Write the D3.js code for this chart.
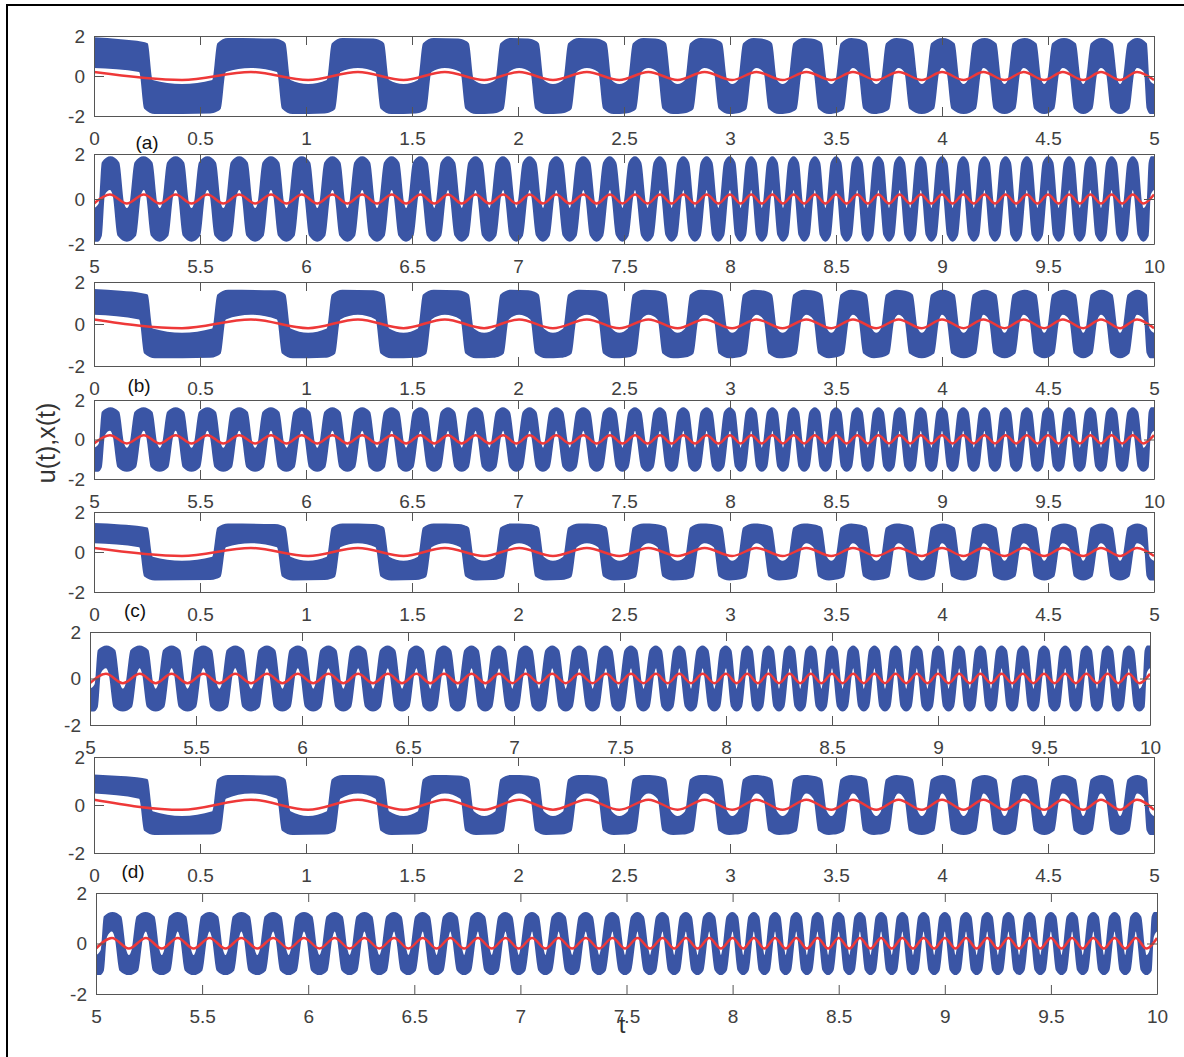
<!DOCTYPE html>
<html>
<head>
<meta charset="utf-8">
<script src="https://cdn.jsdelivr.net/npm/d3@7"></script>
<style>
  body { margin: 0; background: #fff; }
  text { font-family: "Liberation Sans", Arial, sans-serif; }
</style>
</head>
<body>
<svg id="chart" width="1184" height="1057"></svg>
<script>
// ---- data ----
// tick labels
const xTicksLeft = [0, 0.5, 1, 1.5, 2, 2.5, 3, 3.5, 4, 4.5, 5];
const xTicksRight = [5, 5.5, 6, 6.5, 7, 7.5, 8, 8.5, 9, 9.5, 10];
const yTicks = [-2, 0, 2];

// red curve x(t): times of its peaks and troughs, 0..5
const peaks05 = [0.0, 0.74, 1.245, 1.655, 2.005, 2.325, 2.615, 2.88, 3.125, 3.36, 3.58, 3.795, 4.0, 4.195, 4.385, 4.57, 4.75, 4.92];
const troughs05 = [0.415, 1.01, 1.46, 1.84, 2.165, 2.478, 2.753, 3.01, 3.248, 3.478, 3.69, 3.905, 4.102, 4.295, 4.482, 4.666, 4.84, 5.0];
// blue u(t): switching times (up / down), 0..5
const rises05 = [0.59, 1.13, 1.56, 1.925, 2.245, 2.55, 2.82, 3.07, 3.307, 3.53, 3.744, 3.956, 4.153, 4.34, 4.525, 4.706, 4.88];
const falls05 = [0.245, 0.895, 1.36, 1.76, 2.09, 2.41, 2.69, 2.955, 3.19, 3.425, 3.637, 3.854, 4.052, 4.25, 4.44, 4.627, 4.80, 4.966];

// same for 5..10
const peaks510 = [5.075, 5.235, 5.385, 5.535, 5.685, 5.835, 5.98, 6.125, 6.265, 6.405, 6.54, 6.67, 6.80, 6.93, 7.055, 7.18, 7.308, 7.434, 7.552, 7.67, 7.78, 7.89,
  8.0, 8.1, 8.2, 8.3, 8.4, 8.5, 8.6, 8.7, 8.8, 8.9, 9.0, 9.1, 9.2, 9.3, 9.4, 9.5, 9.6, 9.7, 9.8, 9.9, 10.0];
const troughs510 = [5.0, 5.155, 5.31, 5.46, 5.61, 5.76, 5.908, 6.053, 6.195, 6.335, 6.472, 6.605, 6.735, 6.865, 6.992, 7.118, 7.244, 7.371, 7.493, 7.611, 7.725, 7.835, 7.945,
  8.05, 8.15, 8.25, 8.35, 8.45, 8.55, 8.65, 8.75, 8.85, 8.95, 9.05, 9.15, 9.25, 9.35, 9.45, 9.55, 9.65, 9.75, 9.85, 9.95];
const rises510 = [5.037, 5.195, 5.348, 5.498, 5.648, 5.798, 5.944, 6.089, 6.23, 6.37, 6.506, 6.637, 6.767, 6.897, 7.023, 7.149, 7.276, 7.402, 7.522, 7.64, 7.752, 7.862, 7.972,
  8.075, 8.175, 8.275, 8.375, 8.475, 8.575, 8.675, 8.775, 8.875, 8.975, 9.075, 9.175, 9.275, 9.375, 9.475, 9.575, 9.675, 9.775, 9.875, 9.975];
const falls510 = [5.115, 5.272, 5.422, 5.572, 5.722, 5.871, 6.017, 6.16, 6.3, 6.438, 6.572, 6.702, 6.832, 6.961, 7.086, 7.212, 7.34, 7.463, 7.581, 7.697, 7.807, 7.917,
  8.025, 8.125, 8.225, 8.325, 8.425, 8.525, 8.625, 8.725, 8.825, 8.925, 9.025, 9.125, 9.225, 9.325, 9.425, 9.525, 9.625, 9.725, 9.825, 9.925];

// per case (a)..(d): outer level of the u band, white gap to x(t), x(t) peak / trough values
const caseNames = ["(a)", "(b)", "(c)", "(d)"];
const caseTop = [1.9, 1.63, 1.42, 1.25];
const caseGap = [0.2, 0.22, 0.24, 0.26];
const casePeak = [0.2, 0.22, 0.2, 0.22];
const caseTrough = [-0.2, -0.2, -0.2, -0.2];

// ---- layout ----
const panels = [
  { c: 0, half: 0, left: 94, right: 1154, top: 36, bottom: 116, tagX: 147, tagY: 142 },
  { c: 0, half: 1, left: 94, right: 1154, top: 154, bottom: 244 },
  { c: 1, half: 0, left: 94, right: 1154, top: 282, bottom: 366, tagX: 139, tagY: 385 },
  { c: 1, half: 1, left: 94, right: 1154, top: 400, bottom: 479 },
  { c: 2, half: 0, left: 94, right: 1154, top: 512, bottom: 592, tagX: 135, tagY: 610 },
  { c: 2, half: 1, left: 90, right: 1150, top: 632, bottom: 725 },
  { c: 3, half: 0, left: 94, right: 1154, top: 757, bottom: 853, tagX: 133, tagY: 871 },
  { c: 3, half: 1, left: 96, right: 1157, top: 893, bottom: 994 }
];

const blue = "#3a55a5";
const red = "#ee3838";
const axisColor = "#555";
const H = 0.012; // half width of a switching edge, in t
const K = 0.02;  // outer edge leads / inner edge lags the switch by this much

const svg = d3.select("#chart");

svg.append("rect")
  .attr("x", 7).attr("y", 5)
  .attr("width", 1200).attr("height", 1100)
  .attr("fill", "none").attr("stroke", "#000").attr("stroke-width", 2);

// upper and lower edge of the u(t) band, as key points
const bandEdges = (half, c) => {
  const t0 = half ? 5 : 0, t1 = t0 + 5;
  const rises = half ? rises510 : rises05;
  const falls = half ? falls510 : falls05;
  const peaks = half ? peaks510 : peaks05;
  const troughs = half ? troughs510 : troughs05;
  const top = caseTop[c], gap = caseGap[c], pv = casePeak[c], tv = caseTrough[c];
  const redAt = (t) => (peaks.includes(t) ? pv : troughs.includes(t) ? tv : 0);

  const sw = rises.map((t) => ({ t, up: true }))
    .concat(falls.map((t) => ({ t, up: false })))
    .sort((a, b) => a.t - b.t);
  const b = [t0, ...sw.map((s) => s.t), t1];
  const span = sw.map((s, k) => Math.min(b[k + 1] - b[k], b[k + 2] - b[k + 1]));
  const hw = span.map((d) => Math.min(H, 0.2 * d));
  const kw = span.map((d) => Math.min(K, 0.2 * d));

  const U = [], L = [];
  let high = !sw[0].up;
  for (let i = 0; i < b.length - 1; i++) {
    const first = i === 0, last = i === sw.length;
    const s = b[i], e = b[i + 1];
    // outer edge: wider than the state, inner edge: narrower
    const oa = first ? s : s - kw[i - 1] + hw[i - 1];
    const oz = last ? e : e + kw[i] - hw[i];
    const ia = first ? s : s + kw[i - 1] + hw[i - 1];
    const iz = last ? e : e - kw[i] - hw[i];
    const long = oz - oa > 0.12;
    const outer = [];
    if (first && long) {
      // the very first plateau sags towards its end
      outer.push([oa, 1.02 * top], [(oa + oz) / 2, 0.97 * top], [oz - 0.025, 0.9 * top]);
    } else {
      outer.push([oa, first ? top : 0.86 * top]);
      if (long) outer.push([oa + 0.05, top], [oz - 0.05, 0.985 * top], [oz - 0.02, 0.94 * top]);
      else outer.push([(oa + oz) / 2, top]);
    }
    outer.push([oz, last ? top : 0.86 * top]);

    const ext = high ? peaks : troughs;
    const ev = high ? pv : tv;
    const sgn = high ? 1 : -1;
    const inner = [[ia, (first ? redAt(s) : 0) + sgn * gap]];
    ext.filter((t) => t > ia && t < iz).forEach((t) => inner.push([t, ev + sgn * gap]));
    inner.push([iz, (last ? redAt(e) : 0) + sgn * gap]);

    if (high) {
      U.push(...outer);
      L.push(...inner);
    } else {
      U.push(...inner);
      L.push(...outer.map((d) => [d[0], -d[1]]));
    }
    high = !high;
  }
  return { U, L };
};

panels.forEach((p, idx) => {
  const t0 = p.half ? 5 : 0;
  const x = d3.scaleLinear().domain([t0, t0 + 5]).range([p.left, p.right]);
  const y = d3.scaleLinear().domain([-2, 2]).range([p.bottom, p.top]);
  const g = svg.append("g");

  g.append("clipPath").attr("id", "clip" + idx)
    .append("rect")
    .attr("x", p.left).attr("y", p.top)
    .attr("width", p.right - p.left).attr("height", p.bottom - p.top);

  const plot = g.append("g").attr("clip-path", `url(#clip${idx})`);

  const line = d3.line().x((d) => x(d[0])).y((d) => y(d[1])).curve(d3.curveMonotoneX);

  // u(t) band
  const { U, L } = bandEdges(p.half, p.c);
  const bandPath = line(U) + line(L.slice().reverse()).replace(/^M/, "L") + "Z";
  plot.append("path").attr("d", bandPath).attr("fill", blue).attr("stroke", "none");

  // x(t)
  const peaks = p.half ? peaks510 : peaks05;
  const troughs = p.half ? troughs510 : troughs05;
  const redPts = peaks.map((t) => [t, casePeak[p.c]])
    .concat(troughs.map((t) => [t, caseTrough[p.c]]))
    .sort((a, b) => a[0] - b[0]);
  plot.append("path").attr("d", line(redPts))
    .attr("fill", "none").attr("stroke", red).attr("stroke-width", 2.5);

  // axes box with inward ticks
  const ticks = p.half ? xTicksRight : xTicksLeft;
  const fmt = (d) => String(d);
  const styleAxis = (sel) => {
    sel.select(".domain").attr("stroke", axisColor).attr("stroke-width", 1);
    sel.selectAll(".tick line").attr("stroke", axisColor);
    sel.selectAll(".tick text").attr("fill", "#404040").style("font-size", "19px");
  };
  g.append("g").attr("transform", `translate(0,${p.bottom})`)
    .call(d3.axisBottom(x).tickValues(ticks).tickFormat(fmt).tickSizeInner(-9).tickSizeOuter(0).tickPadding(16))
    .call(styleAxis);
  g.append("g").attr("transform", `translate(0,${p.top})`)
    .call(d3.axisTop(x).tickValues(ticks).tickFormat("").tickSizeInner(-9).tickSizeOuter(0))
    .call(styleAxis);
  g.append("g").attr("transform", `translate(${p.left},0)`)
    .call(d3.axisLeft(y).tickValues(yTicks).tickFormat(fmt).tickSizeInner(-10).tickSizeOuter(0).tickPadding(9))
    .call(styleAxis);
  g.append("g").attr("transform", `translate(${p.right},0)`)
    .call(d3.axisRight(y).tickValues(yTicks).tickFormat("").tickSizeInner(-10).tickSizeOuter(0))
    .call(styleAxis);

  if (p.tagX) {
    g.append("text").attr("x", p.tagX).attr("y", p.tagY)
      .attr("text-anchor", "middle").attr("dominant-baseline", "central")
      .style("font-size", "19px").attr("fill", "#111")
      .text(caseNames[p.c]);
  }
});

svg.append("text")
  .attr("transform", "translate(46,443) rotate(-90)")
  .attr("text-anchor", "middle").attr("dominant-baseline", "central")
  .style("font-size", "25px").attr("fill", "#333")
  .text("u(t),x(t)");

svg.append("text")
  .attr("x", 622).attr("y", 1024)
  .attr("text-anchor", "middle").attr("dominant-baseline", "central")
  .style("font-size", "24px").attr("fill", "#333")
  .text("t");
</script>
</body>
</html>
